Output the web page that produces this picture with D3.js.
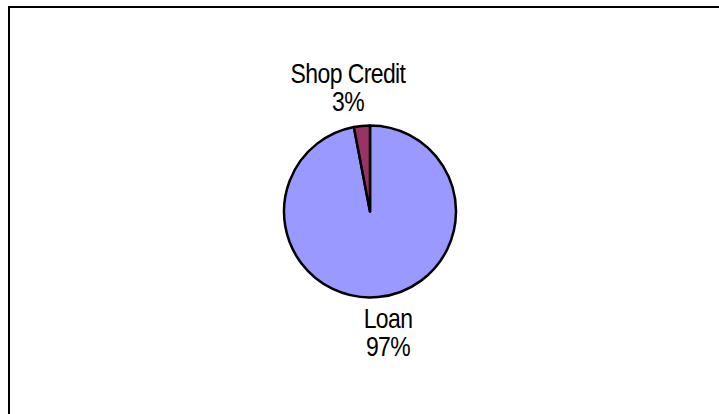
<!DOCTYPE html>
<html>
<head>
<meta charset="utf-8">
<script src="https://cdn.jsdelivr.net/npm/d3@7"></script>
<style>
  html, body { margin: 0; padding: 0; background: #fff; }
  svg { display: block; }
  text { font-family: "Liberation Sans", Arial, sans-serif; fill: #000; }
</style>
</head>
<body>
<svg id="chart" width="719" height="414"></svg>
<script>
// Payment sources
const categories = ["Loan", "Shop Credit"];
const values = [97, 3];
const percentLabels = ["97%", "3%"];
const colors = ["#9999FF", "#993366"];

const W = 719, H = 414;
const svg = d3.select("#chart");

// Chart frame
svg.append("rect")
  .attr("x", 9).attr("y", 7)
  .attr("width", W + 20).attr("height", H + 20)
  .attr("fill", "#fff")
  .attr("stroke", "#000")
  .attr("stroke-width", 2);

const cx = 370, cy = 211.5, r = 86;

const pie = d3.pie().sort(null).value(d => d.value);
const arcs = pie(categories.map((c, i) => ({ name: c, value: values[i], label: percentLabels[i], color: colors[i] })));

const arc = d3.arc().innerRadius(0).outerRadius(r);

const g = svg.append("g").attr("transform", `translate(${cx},${cy})`);

g.selectAll("path")
  .data(arcs)
  .join("path")
  .attr("d", arc)
  .attr("fill", d => d.data.color)
  .attr("stroke", "#000")
  .attr("stroke-width", 2.5)
  .attr("stroke-linejoin", "round");

// Category + percent labels placed outside each slice
const labelPos = {
  "Loan": [388, 328],
  "Shop Credit": [348, 83]
};
const lineGap = 28;
const sy = 1.22;

arcs.forEach(d => {
  const [lx, ly] = labelPos[d.data.name];
  const t = svg.append("g").attr("transform", `translate(${lx},${ly}) scale(1,${sy})`);
  t.append("text")
    .attr("text-anchor", "middle")
    .attr("font-size", 23)
    .attr("letter-spacing", -0.6)
    .text(d.data.name);
  t.append("text")
    .attr("text-anchor", "middle")
    .attr("y", lineGap / sy)
    .attr("font-size", 23)
    .attr("letter-spacing", -0.6)
    .text(d.data.label);
});
</script>
</body>
</html>
